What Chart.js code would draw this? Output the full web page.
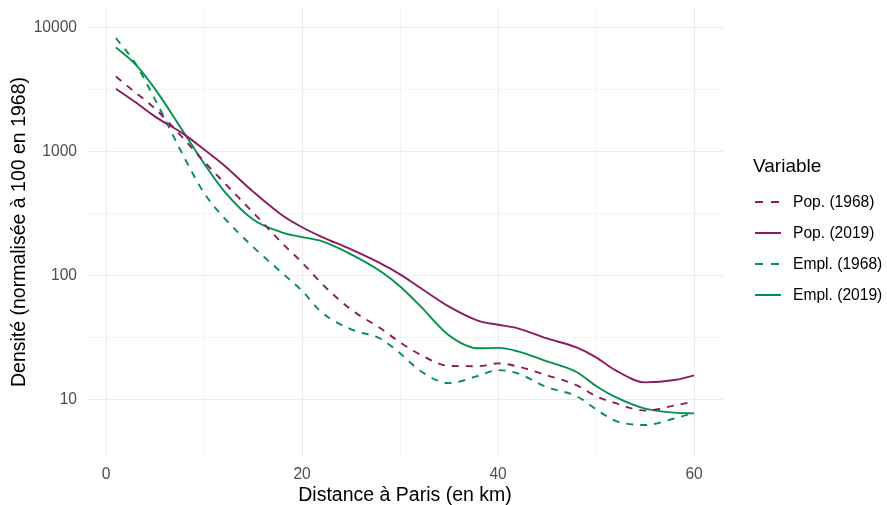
<!DOCTYPE html>
<html lang="fr">
<head>
<meta charset="utf-8">
<title>Densité selon la distance à Paris</title>
<script src="https://cdn.jsdelivr.net/npm/chart.js@4/dist/chart.umd.min.js"></script>
<style>
  html, body { margin:0; padding:0; background:#fff; }
  #wrap { position:relative; width:887px; height:505px; font-family:"Liberation Sans", Arial, sans-serif; }
  #legend { position:absolute; left:753px; top:155px; color:#000; }
  #legend .title { font-size:19px; line-height:22px; height:22px; margin-bottom:9px; }
  #legend .item { display:flex; align-items:center; height:31px; font-size:15.6px; }
  #legend svg { width:26px; height:4px; margin-left:2px; margin-right:12px; }
</style>
</head>
<body>
<div id="wrap">
  <canvas id="chart" width="887" height="505"></canvas>
  <div id="legend"></div>
</div>
<script>
// ===== Densité (normalisée à 100 en 1968) vs distance à Paris =====

const DISTANCE = [1, 3, 5, 8, 10, 12, 15, 18, 20, 22, 25, 28, 30, 32, 35, 38, 40, 42, 45, 48, 50, 52, 55, 58, 60];

const POP_1968  = [4030, 2995, 2220, 1250, 830, 566, 322, 181, 127, 86, 53, 37.4, 28.8, 23.1, 18.6, 18.5, 19.5, 18.4, 15.6, 13.0, 10.6, 9.3, 8.1, 8.9, 9.6];
const POP_2019  = [3220, 2500, 1915, 1371, 1040, 780, 475, 305, 245, 205, 162, 125, 102, 80, 56, 43, 40, 37.4, 31, 26.2, 21.8, 17.1, 13.7, 14.3, 15.6];
const EMPL_1968 = [8260, 5130, 2625, 887, 463, 294, 170, 104, 75, 50.4, 36.7, 30.8, 23.5, 17.1, 13.5, 15.5, 17.2, 16.2, 12.5, 10.6, 8.3, 6.7, 6.2, 7.0, 7.8];
const EMPL_2019 = [6940, 5050, 3190, 1397, 800, 484, 283, 222, 204, 189, 148, 108, 81.5, 57.3, 32.8, 25.8, 26.0, 24.4, 20.2, 16.6, 12.8, 10.4, 8.4, 7.8, 7.7];

const X_TICKS = [0, 10, 20, 30, 40, 50, 60];
const X_LABELS = [0, 20, 40, 60];
const Y_TICKS = [10, 31.62, 100, 316.2, 1000, 3162, 10000];
const Y_LABELS = [10, 100, 1000, 10000];

const PURPLE = '#8b1a5f';
const GREEN  = '#00914a';
const DASH   = [7, 7];

const SERIES = [
  { label:'Pop. (1968)',  data:POP_1968,  color:PURPLE, dash:DASH },
  { label:'Pop. (2019)',  data:POP_2019,  color:PURPLE, dash:[] },
  { label:'Empl. (1968)', data:EMPL_1968, color:GREEN,  dash:DASH },
  { label:'Empl. (2019)', data:EMPL_2019, color:GREEN,  dash:[] },
];

const GRID = '#ebebeb';
const isMajor = (v, list) => list.some(l => Math.abs(l - v) < 1e-6 * Math.max(1, l));

new Chart(document.getElementById('chart'), {
  type: 'line',
  data: {
    datasets: SERIES.map(s => ({
      label: s.label,
      data: DISTANCE.map((d, i) => ({ x:d, y:s.data[i] })),
      borderColor: s.color,
      borderWidth: 1.9,
      borderDash: s.dash,
      pointRadius: 0,
      fill: false,
      cubicInterpolationMode: 'monotone',
    }))
  },
  options: {
    responsive: false,
    animation: false,
    layout: { padding: { top:7, right:164, left:0, bottom:0 } },
    plugins: { legend: { display:false }, tooltip: { enabled:false } },
    scales: {
      x: {
        type: 'linear',
        min: -1.95, max: 62.95,
        afterBuildTicks: sc => { sc.ticks = X_TICKS.map(v => ({ value:v })); },
        afterFit: sc => { sc.height = 48; sc.paddingLeft = 0; sc.paddingRight = 0; },
        border: { display:false },
        grid: {
          color: GRID, drawTicks: false,
          lineWidth: ctx => isMajor(ctx.tick.value, X_LABELS) ? 1.1 : 0.55,
        },
        ticks: {
          padding: 8, color: '#4d4d4d', maxRotation: 0, autoSkip: false,
          font: { family:'"Liberation Sans", Arial, sans-serif', size:15.6 },
          callback: v => isMajor(v, X_LABELS) ? String(v) : '',
        },
        title: {
          display: true, text: 'Distance à Paris (en km)', color: '#000',
          font: { family:'"Liberation Sans", Arial, sans-serif', size:19.5, lineHeight:1.0 },
          padding: { top:0, bottom:0 },
        },
      },
      y: {
        type: 'logarithmic',
        min: 3.42, max: 14700,
        afterBuildTicks: sc => { sc.ticks = Y_TICKS.map(v => ({ value:v })); },
        afterFit: sc => { sc.width = 87; sc.paddingTop = 0; sc.paddingBottom = 0; },
        border: { display:false },
        grid: {
          color: GRID, drawTicks: false,
          lineWidth: ctx => isMajor(ctx.tick.value, Y_LABELS) ? 1.1 : 0.55,
        },
        ticks: {
          padding: 10, color: '#4d4d4d', autoSkip: false,
          font: { family:'"Liberation Sans", Arial, sans-serif', size:15.6 },
          callback: v => isMajor(v, Y_LABELS) ? String(Math.round(v)) : '',
        },
        title: {
          display: true, text: 'Densité (normalisée à 100 en 1968)', color: '#000',
          font: { family:'"Liberation Sans", Arial, sans-serif', size:19.5, lineHeight:1.2 },
          padding: { top:8, bottom:0 },
        },
      },
    },
  },
});

// legend, ggplot-style, on the right
const lg = document.getElementById('legend');
lg.innerHTML = '<div class="title">Variable</div>' + SERIES.map(s => `
  <div class="item">
    <svg viewBox="0 0 26 4"><line x1="0" y1="2" x2="26" y2="2" stroke="${s.color}" stroke-width="2"
      stroke-dasharray="${s.dash.length ? '8 8' : 'none'}"/></svg>
    <span>${s.label}</span>
  </div>`).join('');
</script>
</body>
</html>
